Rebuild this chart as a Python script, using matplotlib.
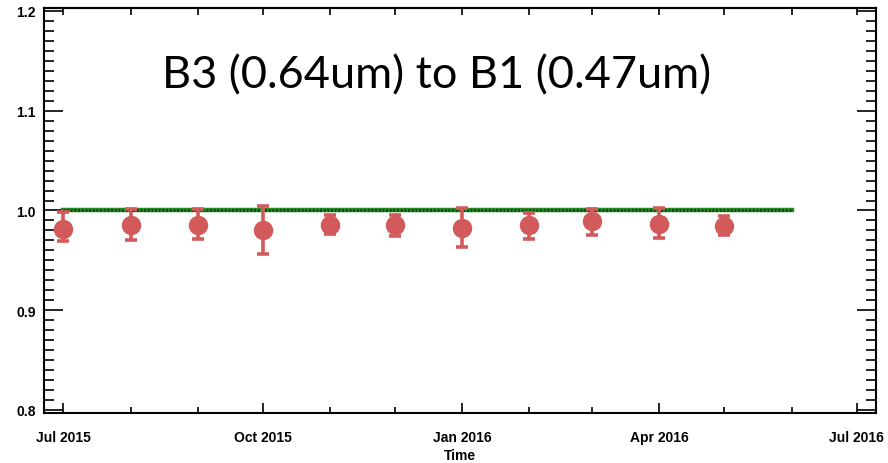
import matplotlib
matplotlib.use("Agg")
import matplotlib.pyplot as plt
import matplotlib.dates as mdates
from matplotlib.ticker import MultipleLocator
import pandas as pd

# Monatliche Verhaeltnisse B3/B1 mit Fehlerbalken
fechas = pd.to_datetime(['2015-07-01', '2015-08-01', '2015-09-01', '2015-10-01',
                         '2015-11-01', '2015-12-01', '2016-01-01', '2016-02-01',
                         '2016-03-01', '2016-04-01', '2016-05-01'])
ratio = [0.981, 0.985, 0.985, 0.980, 0.985, 0.985, 0.982, 0.985, 0.989, 0.986, 0.984]
ratio_max = [0.998, 1.001, 1.001, 1.005, 0.995, 0.995, 1.002, 0.997, 1.001, 1.002, 0.994]
ratio_min = [0.969, 0.970, 0.971, 0.956, 0.976, 0.974, 0.963, 0.971, 0.975, 0.972, 0.975]

# linea de referencia
ref_fechas = pd.to_datetime(['2015-07-01', '2016-06-01'])
ref_valor = [1.0, 1.0]

titulo = 'B3 (0.64um) to B1 (0.47um)'

fig = plt.figure(figsize=(8.88, 4.64), dpi=100)
ax = fig.add_axes([0.0495, 0.1078, 0.937, 0.8728])

err_lo = [r - m for r, m in zip(ratio, ratio_min)]
err_hi = [m - r for r, m in zip(ratio, ratio_max)]

ax.plot(ref_fechas, ref_valor, color='#2a8a2a', lw=3.2, zorder=2)
ax.plot(ref_fechas, ref_valor, color='#0a4a0a', lw=2.2, ls=(0, (0.6, 0.6)), zorder=2)

ax.errorbar(fechas, ratio, yerr=[err_lo, err_hi], fmt='o', color='#d25a5a',
            ms=13, elinewidth=2.6, capsize=4.5, capthick=2.6, zorder=3)

ax.set_xlim(pd.Timestamp('2015-06-22'), pd.Timestamp('2016-07-10'))
ax.set_ylim(0.797, 1.203)

ax.xaxis.set_major_locator(mdates.MonthLocator(bymonth=[1, 4, 7, 10]))
ax.xaxis.set_minor_locator(mdates.MonthLocator())
ax.xaxis.set_major_formatter(mdates.DateFormatter('%b %Y'))
ax.yaxis.set_major_locator(MultipleLocator(0.1))
ax.yaxis.set_minor_locator(MultipleLocator(0.01))

fuente = ['Liberation Sans', 'DejaVu Sans']
ax.tick_params(axis='x', which='major', direction='in', length=7, width=1.2, pad=12)
ax.tick_params(axis='x', which='minor', direction='in', length=4, width=1.2)
ax.tick_params(axis='y', which='major', direction='in', length=14, width=1.2,
               right=True, pad=6)
ax.tick_params(axis='y', which='minor', direction='in', length=7, width=1.2, right=True)
for lab in ax.get_xticklabels() + ax.get_yticklabels():
    lab.set_fontfamily(fuente)
    lab.set_fontweight('bold')
    lab.set_fontsize(10)

# ticks de arriba
top = ax.secondary_xaxis('top')
top.xaxis.set_major_locator(mdates.MonthLocator())
top.tick_params(direction='in', length=5, width=1.2, labeltop=False)

for sp in list(ax.spines.values()) + [top.spines['top']]:
    sp.set_linewidth(1.5)

ax.set_xlabel('Time', family=fuente, fontweight='bold', fontsize=10, labelpad=3)
ax.text(0.472, 0.835, titulo, transform=ax.transAxes, ha='center', va='center',
        family='Lato', fontsize=32.5)

fig.savefig('out.png', dpi=100)
